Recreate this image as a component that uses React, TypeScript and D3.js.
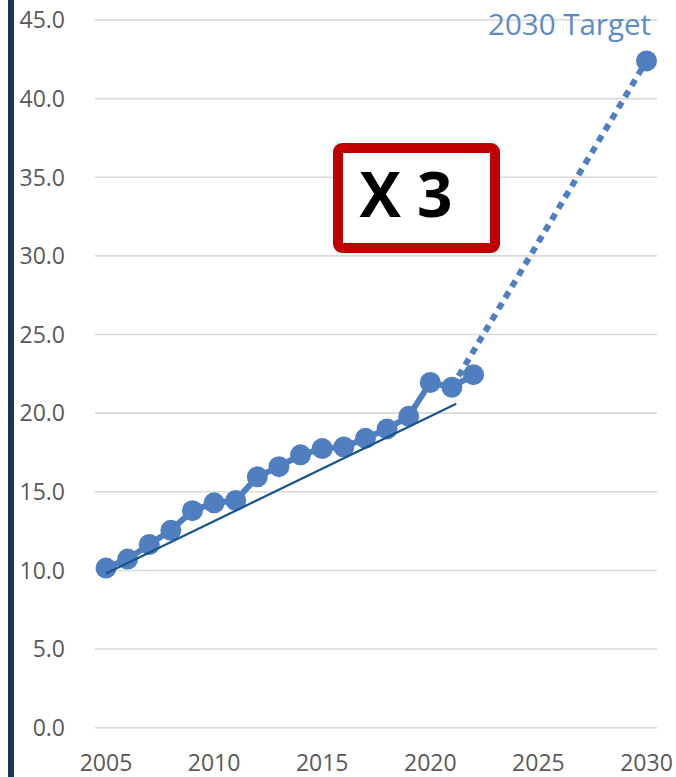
import React from "react";
import * as d3 from "d3";

const years = [2005, 2006, 2007, 2008, 2009, 2010, 2011, 2012, 2013, 2014, 2015, 2016, 2017, 2018, 2019, 2020, 2021, 2022];
const values = [10.15, 10.72, 11.65, 12.55, 13.8, 14.3, 14.45, 15.95, 16.6, 17.35, 17.75, 17.85, 18.4, 19.0, 19.8, 21.95, 21.65, 22.45];
const targetYear = 2030;
const targetValue = 42.4;
const trendStart: [number, number] = [2005, 9.8];
const trendEnd: [number, number] = [2021.2, 20.6];
const yTicks = [0, 5, 10, 15, 20, 25, 30, 35, 40, 45];
const xTicks = [2005, 2010, 2015, 2020, 2025, 2030];
const targetLabel = "2030 Target";
const boxLabel = "X 3";

const W = 676;
const H = 777;

export default function App() {
  const x = d3.scaleLinear().domain([2005, 2030]).range([106, 646.5]);
  const y = d3.scaleLinear().domain([0, 45]).range([727.7, 20]);
  const pts: [number, number][] = years.map((yr, i) => [yr, values[i]]);
  const line = d3.line<[number, number]>().x((d) => x(d[0])).y((d) => y(d[1]));
  const lastIdx = years.indexOf(2021);
  const dashed: [number, number][] = [[years[lastIdx], values[lastIdx]], [targetYear, targetValue]];
  const font = "'Open Sans', sans-serif";
  const blue = "#4F7FC0";
  return (
    <svg width={W} height={H} style={{ position: "absolute", left: 0, top: 0, display: "block", background: "#fff" }}>
      <rect x={8} y={0} width={6} height={H} fill="#1F3652" />
      {yTicks.map((t) => (
        <g key={t}>
          <line x1={95} x2={657} y1={y(t)} y2={y(t)} stroke="#D9D9D9" strokeWidth={1.6} />
          <text x={65} y={y(t)} dy="0.36em" textAnchor="end" fontFamily={font} fontSize={23} fill="#595959">
            {t.toFixed(1)}
          </text>
        </g>
      ))}
      {xTicks.map((t) => (
        <text key={t} x={x(t)} y={771} textAnchor="middle" fontFamily={font} fontSize={23} fill="#595959">
          {t}
        </text>
      ))}
      <path d={line(dashed) || ""} fill="none" stroke={blue} strokeWidth={6} strokeDasharray="7,6" />
      <path d={line(pts) || ""} fill="none" stroke={blue} strokeWidth={6} strokeLinejoin="round" />
      {pts.map((p, i) => (
        <circle key={i} cx={x(p[0])} cy={y(p[1])} r={10.5} fill={blue} />
      ))}
      <circle cx={x(targetYear)} cy={y(targetValue)} r={10.5} fill={blue} />
      <path d={line([trendStart, trendEnd]) || ""} fill="none" stroke="#16548C" strokeWidth={2.2} />
      <text x={651} y={35} textAnchor="end" fontFamily={font} fontSize={29.5} fill="#5B8BC9">
        {targetLabel}
      </text>
      <rect x={338} y={148} width={157} height={100} rx={4} fill="#fff" stroke="#C00000" strokeWidth={10} />
      <text x={406} y={217} textAnchor="middle" fontFamily={font} fontWeight="bold" fontSize={62} fill="#000">
        {boxLabel}
      </text>
    </svg>
  );
}
